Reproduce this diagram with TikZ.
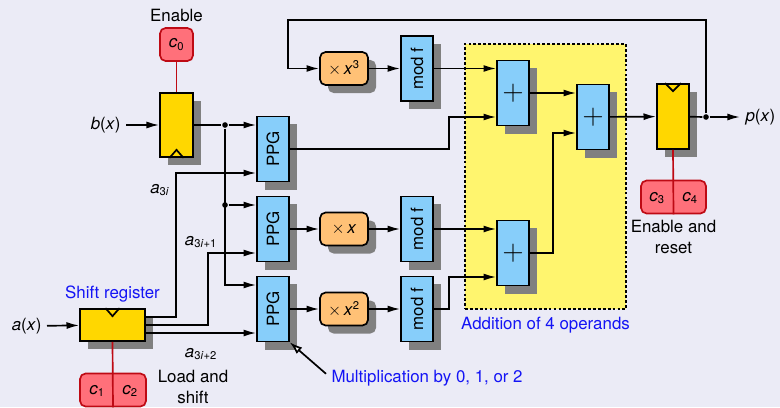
\documentclass[tikz,border=0pt]{standalone}
\usepackage{graphicx}
\usepackage{fontspec}
\setmainfont{TeX Gyre Heros}
\setsansfont{TeX Gyre Heros}
\usetikzlibrary{arrows.meta,shadows}
\definecolor{bgc}{RGB}{235,235,246}
\definecolor{regc}{RGB}{255,215,0}
\definecolor{blkc}{RGB}{135,206,250}
\definecolor{mulc}{RGB}{255,193,118}
\definecolor{ctlc}{RGB}{255,112,122}
\definecolor{ctld}{RGB}{190,10,20}
\definecolor{addc}{RGB}{255,245,110}
\definecolor{shc}{RGB}{128,128,128}
\definecolor{txtb}{RGB}{20,20,245}
\newcommand{\mv}[1]{\textit{#1}}

\begin{document}
\begin{tikzpicture}[x=.025cm,y=-.025cm,line width=1.2pt,font=\fontsize{12}{15.5}\selectfont,
 shad/.style={drop shadow={shadow xshift=.2cm,shadow yshift=-.2cm,fill=shc,opacity=1}},
 reg/.style={draw,fill=regc,shad,inner sep=0pt},
 blk/.style={draw,fill=blkc,shad,minimum width=.8cm,minimum height=1.625cm,inner sep=0pt},
 mul/.style={draw,fill=mulc,shad,rounded corners=4pt,minimum width=1.2cm,minimum height=.825cm,inner sep=0pt},
 ctl/.style={draw=ctld,fill=ctlc,rounded corners=4pt,minimum height=.825cm,inner sep=0pt},
 ctlline/.style={draw=ctld},
 arr/.style={-{Latex[length=9pt,width=5pt]}},
 note/.style={text=txtb},
 dot/.style={circle,fill,inner sep=0pt,minimum size=4pt}]
\path[use as bounding box,fill=bgc] (0,0) rectangle (780,407);

\node[draw,dash pattern=on 2pt off 1.5pt,fill=addc,minimum width=4.025cm,minimum height=6.625cm,inner sep=0pt] (adds) at (545.5,176.5) {};
\node[note,below=1pt] (addl) at (adds.south) {Addition of 4 operands};

\node[ctl,minimum width=.825cm] (c0) at (176.5,44.5) {\mv{c}\textsubscript{0}};
\node[above] (en0) at (c0.north) {Enable};
\node[reg,minimum width=.825cm,minimum height=1.6cm] (breg) at (176.5,125) {};
\draw[ctlline] (c0) -- (breg);
\draw ([xshift=-.175cm]breg.south) -- ++(7,-8) -- ++(7,8);
\node[left] (bx) at (126,125) {\mv{b}(\mv{x})};
\draw[arr] (bx) -- (breg);

\node[reg,minimum width=1.625cm,minimum height=.8cm] (sreg) at (112.5,325) {};
\node[note,above] (srl) at (sreg.north) {Shift register};
\draw ([xshift=-.175cm]sreg.north) -- ++(7,8) -- ++(7,-8);
\node[left] (ax) at (47,326) {\mv{a}(\mv{x})};
\draw[arr] (ax) -- (sreg);
\node[ctl,minimum width=1.65cm] (c12) at (113,390) {};
\node (c1) at (97,391) {\mv{c}\textsubscript{1}}; \node (c2) at (130,391) {\mv{c}\textsubscript{2}};
\draw[ctlline] (sreg.south) -- (c12.south);
\node[align=center] (ls) at (193,387) {Load and\\shift};

\node[blk] (ppg1) at (273,149) {\rotatebox{90}{PPG}};
\node[blk] (ppg2) at (273,229) {\rotatebox{90}{PPG}};
\node[blk] (ppg3) at (273,309) {\rotatebox{90}{PPG}};

\node[dot] (j1) at (225,125) {}; \node[dot] (j2) at (225,205) {};
\coordinate (j3) at (225,285);
\draw (breg) -- (j1); \draw[arr] (j1) -- (j1 -| ppg1.west);
\draw[arr] (j2) -- (j2 -| ppg2.west);
\draw[arr] (j1) -- (j3) -- (j3 -| ppg3.west);

\coordinate (s0) at ([yshift=.2cm]sreg.east); \coordinate (s2) at ([yshift=-.2cm]sreg.east);
\coordinate (a0) at (176,173); \coordinate (a1) at (208,253);
\draw[arr] (s0) -| (a0) -- (a0 -| ppg1.west);
\draw[arr] (sreg.east) -| (a1) -- (a1 -| ppg2.west);
\draw[arr] (s2) -- (s2 -| ppg3.west);
\node (la0) at (160,190) {\mv{a}\textsubscript{3\mv{i}}};
\node (la1) at (201,242) {\mv{a}\textsubscript{3\mv{i}+1}};
\node (la2) at (201,354) {\mv{a}\textsubscript{3\mv{i}+2}};

\node[note,right] (mtxt) at (326,378) {Multiplication by 0, 1, or 2};
\draw[-{Latex[fill=white,length=9pt,width=6pt]}] ([yshift=3pt]mtxt.west) -- (ppg3.south east);

\node[mul] (m3) at (344,68.5) {$\times$\,\mv{x}\textsuperscript{3}};
\node[mul] (m1) at (344,229) {$\times$\,\mv{x}};
\node[mul] (m2) at (344,309) {$\times$\,\mv{x}\textsuperscript{2}};
\node[blk] (mf1) at (417,68.5) {\rotatebox{90}{mod f}};
\node[blk] (mf2) at (417,229) {\rotatebox{90}{mod f}};
\node[blk] (mf3) at (417,309) {\rotatebox{90}{mod f}};
\draw[arr] (ppg2) -- (m1); \draw[arr] (ppg3) -- (m2);
\draw[arr] (m3) -- (mf1); \draw[arr] (m1) -- (mf2); \draw[arr] (m2) -- (mf3);

\node[blk] (add1) at (513,93) {\huge$+$};
\node[blk] (add2) at (513,253) {\huge$+$};
\node[blk] (add3) at (593,117) {\huge$+$};
\coordinate (q1) at (449,117); \coordinate (q2) at (449,277); \coordinate (q3) at (553,133);
\draw[arr] (mf1.east) -- (mf1.east -| add1.west);
\draw[arr] (ppg1.east) -| (q1) -- (q1 -| add1.west);
\draw[arr] (mf2.east) -- (mf2.east -| add2.west);
\draw[arr] (mf3.east) -| (q2) -- (q2 -| add2.west);
\draw[arr] (add1.east) -- (add1.east -| add3.west);
\draw[arr] (add2.east) -| (q3) -- (q3 -| add3.west);

\node[reg,minimum width=.8cm,minimum height=1.625cm] (oreg) at (673,116.5) {};
\draw ([xshift=-.2cm]oreg.north) -- ++(8,8) -- ++(8,-8);
\draw[arr] (add3) -- (oreg);
\node[ctl,minimum width=1.625cm] (c34) at (673.5,197) {};
\node (c3) at (657,198) {\mv{c}\textsubscript{3}}; \node (c4) at (690,198) {\mv{c}\textsubscript{4}};
\draw[ctlline] (oreg.south) -- (c34.south);
\node[below,align=center] (en34) at (c34.south) {Enable and\\reset};

\node[dot] (fb) at (706,117) {};
\node[right] (px) at (740,117) {\mv{p}(\mv{x})};
\draw (oreg) -- (fb); \draw[arr] (fb) -- (px);
\coordinate (fbc) at (288,20);
\draw[arr] (fb) |- (fbc) |- (m3.west);
\end{tikzpicture}
\end{document}
